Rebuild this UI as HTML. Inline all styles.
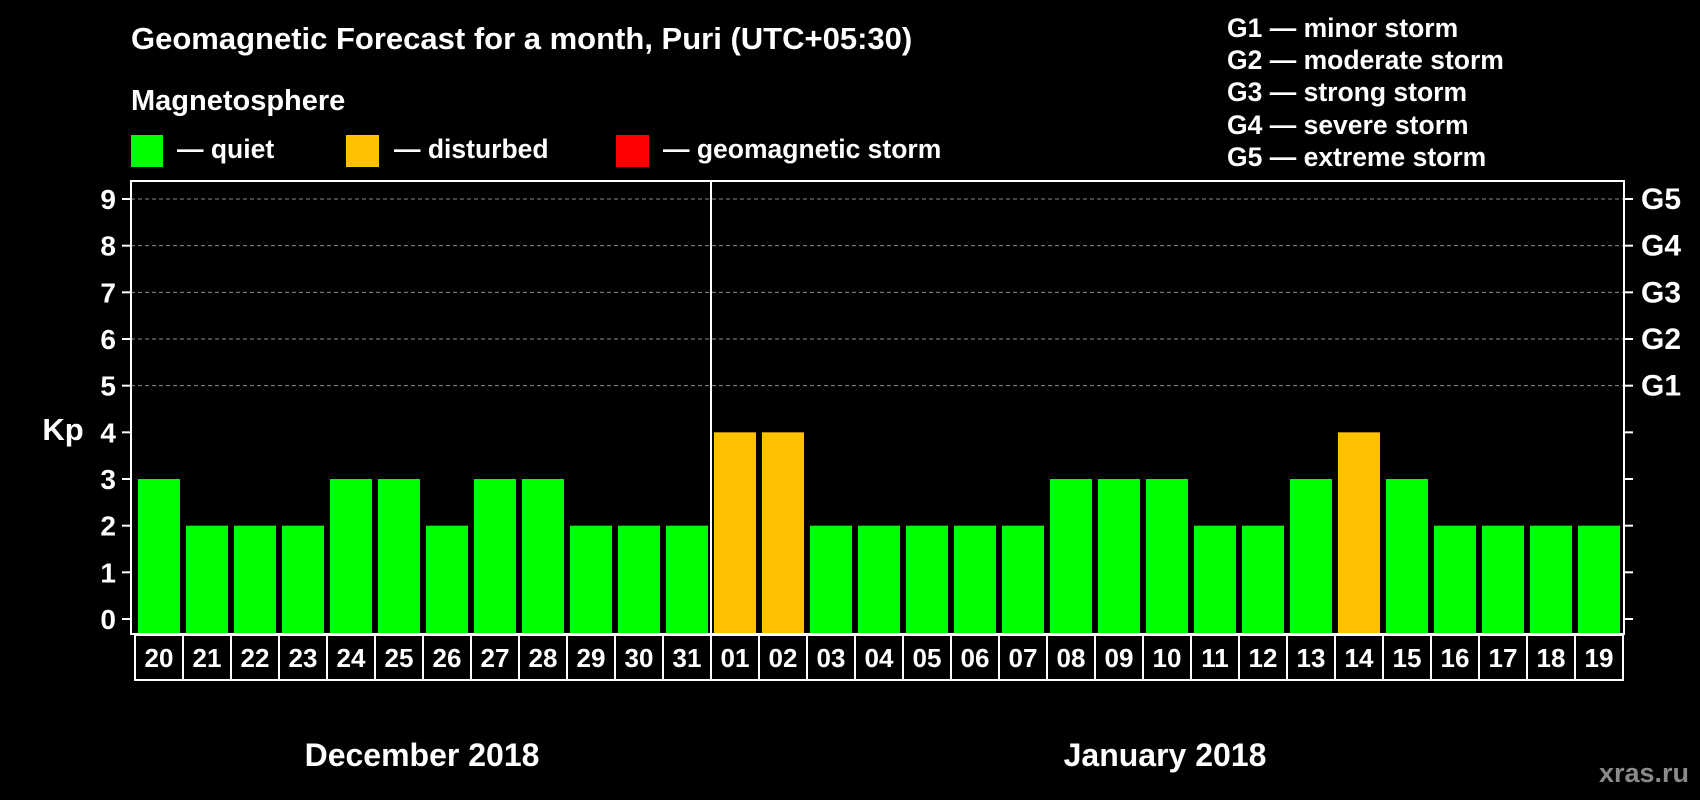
<!DOCTYPE html>
<html><head><meta charset="utf-8"><style>
html,body{margin:0;padding:0;background:#000;}
svg{display:block;font-family:"Liberation Sans",Arial,sans-serif;font-weight:bold;}
</style></head><body>
<svg id="chart" width="1700" height="800" viewBox="0 0 1700 800">
<rect width="1700" height="800" fill="#000"/>
<text x="131" y="49" font-size="31" fill="#fff">Geomagnetic Forecast for a month, Puri (UTC+05:30)</text>
<text x="131" y="110" font-size="29" fill="#fff">Magnetosphere</text>
<g>
<rect x="131" y="135" width="32" height="32" fill="#00ff00"/>
<text x="177" y="158" font-size="26.5" fill="#fff">— quiet</text></g>
<g>
<rect x="346" y="135" width="33" height="32" fill="#ffc000"/>
<text x="394" y="158" font-size="26.5" fill="#fff">— disturbed</text></g>
<g>
<rect x="616" y="135" width="33" height="32" fill="#ff0000"/>
<text x="663" y="158" font-size="26.5" fill="#fff">— geomagnetic storm</text></g>
<g font-size="26.5" fill="#fff">
<text x="1227" y="37">G1 — minor storm</text>
<text x="1227" y="69">G2 — moderate storm</text>
<text x="1227" y="101">G3 — strong storm</text>
<text x="1227" y="134">G4 — severe storm</text>
<text x="1227" y="166">G5 — extreme storm</text>
</g>
<text x="63" y="440" font-size="31" fill="#fff" text-anchor="middle">Kp</text>
<g id="grid"></g>
<g id="bars"></g>
<g id="axes"></g>
<text x="422" y="766" font-size="32" fill="#fff" text-anchor="middle">December 2018</text>
<text x="1165" y="766" font-size="32" fill="#fff" text-anchor="middle">January 2018</text>
<text x="1689" y="782" font-size="27" fill="#8a8a8a" text-anchor="end">xras.ru</text>
</svg>
<script>
const days = ["20","21","22","23","24","25","26","27","28","29","30","31","01","02","03","04","05","06","07","08","09","10","11","12","13","14","15","16","17","18","19"];
const kpValues = [3,2,2,2,3,3,2,3,3,2,2,2,4,4,2,2,2,2,2,3,3,3,2,2,3,4,3,2,2,2,2];
const yTicks = [0,1,2,3,4,5,6,7,8,9];
const gLabels = ["","","","","","G1","G2","G3","G4","G5"];
const monthBreakIndex = 12;

const NS = "http://www.w3.org/2000/svg";
const plotL = 131, plotR = 1624, plotT = 181, plotB = 634;
const y0 = 619, unit = (619 - 199) / 9;
const slot = 48, barOff = 138, barW = 42;
function yScale(v){ return y0 - v * unit; }
function xScale(i){ return barOff + i * slot; }
function mk(tag, attrs, parent){ const e = document.createElementNS(NS, tag); for (const k in attrs) e.setAttribute(k, attrs[k]); parent.appendChild(e); return e; }
function colorFor(v){ return v >= 5 ? "#ff0000" : (v >= 4 ? "#ffc000" : "#00ff00"); }

const grid = document.getElementById("grid");
const bars = document.getElementById("bars");
const axes = document.getElementById("axes");

yTicks.forEach(t => {
  const y = yScale(t);
  if (t >= 5) {
    const g = mk("line", {x1: plotL, x2: plotR, y1: y, y2: y, stroke: "#8c8c8c", "stroke-width": 1, "stroke-dasharray": "4,3"}, grid);
    
    
  }
  const tl = mk("line", {x1: plotL - 9, x2: plotL, y1: y, y2: y, stroke: "#fff", "stroke-width": 2}, axes);
  
  
  const tr = mk("line", {x1: plotR, x2: plotR + 9, y1: y, y2: y, stroke: "#fff", "stroke-width": 2}, axes);
  
  
  const lab = mk("text", {x: 116, y: y + 10, "font-size": 28, fill: "#fff", "text-anchor": "end"}, axes);
  lab.textContent = t;
  
  
  if (gLabels[t]) {
    const gl = mk("text", {x: 1641, y: y + 10, "font-size": 30, fill: "#fff"}, axes);
    gl.textContent = gLabels[t];
    
    
  }
});

kpValues.forEach((v, i) => {
  const r = mk("rect", {x: xScale(i), y: yScale(v), width: barW, height: plotB - 1 - yScale(v), fill: colorFor(v)}, bars);
  
  
});

const frame = mk("rect", {x: plotL, y: plotT, width: plotR - plotL, height: plotB - plotT, fill: "none", stroke: "#fff", "stroke-width": 2}, axes);


const divX = xScale(monthBreakIndex) - 3;
const dv = mk("line", {x1: divX, x2: divX, y1: plotT, y2: plotB, stroke: "#fff", "stroke-width": 2}, axes);



const boxL = 135, boxT = 635, boxH = 45;
days.forEach((d, i) => {
  const bx = mk("rect", {x: boxL + i * slot, y: boxT, width: slot, height: boxH, fill: "none", stroke: "#fff", "stroke-width": 2}, axes);
  
  
  const t = mk("text", {x: boxL + i * slot + slot / 2, y: boxT + 32, "font-size": 26, fill: "#fff", "text-anchor": "middle"}, axes);
  t.textContent = d;
  
  
});
</script>
</body></html>
